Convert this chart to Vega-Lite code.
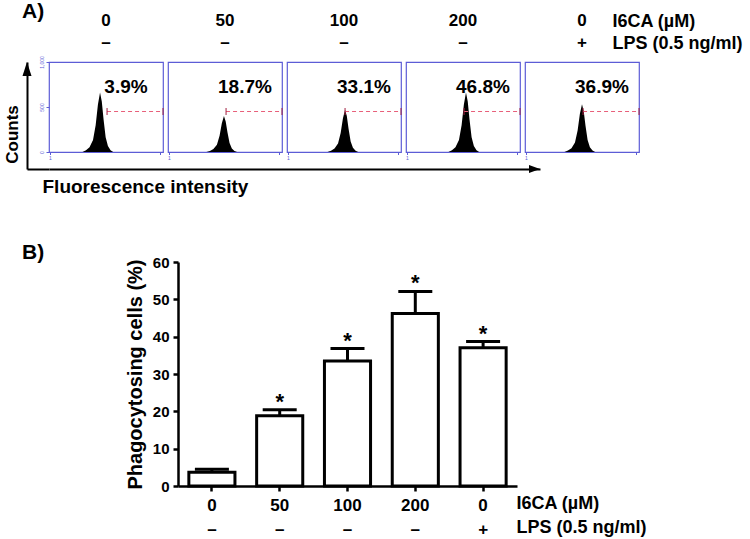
{
  "$schema": "https://vega.github.io/schema/vega-lite/v6.json",
  "background": "white",
  "padding": {"left": 3, "top": 1, "right": 5, "bottom": 5},
  "config": {
    "font": "Liberation Sans",
    "view": {"stroke": null},
    "axis": {"labelColor": "#000", "titleColor": "#000", "domainColor": "#000", "tickColor": "#000", "grid": false, "labelFont": "Liberation Sans", "titleFont": "Liberation Sans"},
    "title": {"font": "Liberation Sans", "color": "#000", "fontWeight": "bold"}
  },
  "columns": 2,
  "spacing": {"row": 0, "column": 0},
  "align": "each",
  "bounds": "flush",
  "concat": [
    {
      "width": 22, "height": 41,
      "title": {"text": "A)", "anchor": "start", "frame": "group", "orient": "top", "offset": 2, "dy": 20, "baseline": "alphabetic", "dx": -5, "fontSize": 21, "fontWeight": "bold"},
      "data": {"values": []},
      "mark": "point"
    },
    {
      "width": 590, "height": 41,
      "data": {"values": [
        {"cond": "0/–", "factor": "I6CA (µM)", "level": "0"},
        {"cond": "0/–", "factor": "LPS (0.5 ng/ml)", "level": "–"},
        {"cond": "50/–", "factor": "I6CA (µM)", "level": "50"},
        {"cond": "50/–", "factor": "LPS (0.5 ng/ml)", "level": "–"},
        {"cond": "100/–", "factor": "I6CA (µM)", "level": "100"},
        {"cond": "100/–", "factor": "LPS (0.5 ng/ml)", "level": "–"},
        {"cond": "200/–", "factor": "I6CA (µM)", "level": "200"},
        {"cond": "200/–", "factor": "LPS (0.5 ng/ml)", "level": "–"},
        {"cond": "0/+", "factor": "I6CA (µM)", "level": "0"},
        {"cond": "0/+", "factor": "LPS (0.5 ng/ml)", "level": "+"}
      ]},
      "mark": {"type": "text", "fontSize": 17, "fontWeight": "bold", "baseline": "middle", "color": "#000"},
      "encoding": {
        "x": {"field": "cond", "type": "nominal", "sort": ["0/–", "50/–", "100/–", "200/–", "0/+"], "scale": {"type": "band", "paddingInner": 0.042, "paddingOuter": 0}, "axis": null},
        "y": {"field": "factor", "type": "nominal", "sort": ["I6CA (µM)", "LPS (0.5 ng/ml)"], "scale": {"type": "point", "padding": 0.432, "align": 0.026},
              "axis": {"orient": "right", "offset": -27, "domain": false, "ticks": false, "labelPadding": 0, "labelAlign": "left", "labelFontSize": 18, "labelFontWeight": "bold", "title": null}},
        "text": {"field": "level"}
      }
    },
    {
      "width": 22, "height": 107,
      "data": {"values": [{"arrow": "Counts"}]},
      "mark": {"type": "point", "shape": "M0,0L0.45,1.4L-0.45,1.4Z", "size": 400, "filled": true, "color": "#000", "opacity": 1, "strokeWidth": 0},
      "encoding": {
        "x": {"datum": 0, "type": "quantitative", "scale": {"domain": [0, 1]},
              "axis": {"domainWidth": 2, "ticks": false, "labels": false, "grid": false, "title": null}},
        "y": {"datum": 1, "type": "quantitative", "scale": {"domain": [0, 1]},
              "axis": {"domainWidth": 2, "ticks": false, "labels": false, "grid": false, "title": "Counts", "titleFontSize": 17, "titleFontWeight": "bold", "titleX": -10, "titleY": 72, "titleAngle": -90, "titleBaseline": "alphabetic", "titleAlign": "center"}}
      }
    },
    {
      "data": {"values": [
        {"cond": "0/–", "kind": "hist", "fl": 2.86, "count": 0},
        {"cond": "0/–", "kind": "hist", "fl": 3.06, "count": 20},
        {"cond": "0/–", "kind": "hist", "fl": 3.26, "count": 53},
        {"cond": "0/–", "kind": "hist", "fl": 3.46, "count": 132},
        {"cond": "0/–", "kind": "hist", "fl": 3.61, "count": 297},
        {"cond": "0/–", "kind": "hist", "fl": 3.74, "count": 528},
        {"cond": "0/–", "kind": "hist", "fl": 3.86, "count": 660},
        {"cond": "0/–", "kind": "hist", "fl": 3.96, "count": 561},
        {"cond": "0/–", "kind": "hist", "fl": 4.06, "count": 363},
        {"cond": "0/–", "kind": "hist", "fl": 4.18, "count": 165},
        {"cond": "0/–", "kind": "hist", "fl": 4.31, "count": 66},
        {"cond": "0/–", "kind": "hist", "fl": 4.46, "count": 20},
        {"cond": "0/–", "kind": "hist", "fl": 4.61, "count": 0},
        {"cond": "50/–", "kind": "hist", "fl": 3.14, "count": 0},
        {"cond": "50/–", "kind": "hist", "fl": 3.34, "count": 12},
        {"cond": "50/–", "kind": "hist", "fl": 3.54, "count": 32},
        {"cond": "50/–", "kind": "hist", "fl": 3.74, "count": 80},
        {"cond": "50/–", "kind": "hist", "fl": 3.89, "count": 180},
        {"cond": "50/–", "kind": "hist", "fl": 4.02, "count": 320},
        {"cond": "50/–", "kind": "hist", "fl": 4.14, "count": 400},
        {"cond": "50/–", "kind": "hist", "fl": 4.24, "count": 340},
        {"cond": "50/–", "kind": "hist", "fl": 4.34, "count": 220},
        {"cond": "50/–", "kind": "hist", "fl": 4.46, "count": 100},
        {"cond": "50/–", "kind": "hist", "fl": 4.59, "count": 40},
        {"cond": "50/–", "kind": "hist", "fl": 4.74, "count": 12},
        {"cond": "50/–", "kind": "hist", "fl": 4.89, "count": 0},
        {"cond": "100/–", "kind": "hist", "fl": 3.26, "count": 0},
        {"cond": "100/–", "kind": "hist", "fl": 3.46, "count": 14},
        {"cond": "100/–", "kind": "hist", "fl": 3.66, "count": 38},
        {"cond": "100/–", "kind": "hist", "fl": 3.86, "count": 94},
        {"cond": "100/–", "kind": "hist", "fl": 4.01, "count": 212},
        {"cond": "100/–", "kind": "hist", "fl": 4.14, "count": 376},
        {"cond": "100/–", "kind": "hist", "fl": 4.26, "count": 470},
        {"cond": "100/–", "kind": "hist", "fl": 4.36, "count": 400},
        {"cond": "100/–", "kind": "hist", "fl": 4.46, "count": 259},
        {"cond": "100/–", "kind": "hist", "fl": 4.58, "count": 118},
        {"cond": "100/–", "kind": "hist", "fl": 4.71, "count": 47},
        {"cond": "100/–", "kind": "hist", "fl": 4.86, "count": 14},
        {"cond": "100/–", "kind": "hist", "fl": 5.01, "count": 0},
        {"cond": "200/–", "kind": "hist", "fl": 3.37, "count": 0},
        {"cond": "200/–", "kind": "hist", "fl": 3.57, "count": 20},
        {"cond": "200/–", "kind": "hist", "fl": 3.77, "count": 53},
        {"cond": "200/–", "kind": "hist", "fl": 3.97, "count": 132},
        {"cond": "200/–", "kind": "hist", "fl": 4.12, "count": 297},
        {"cond": "200/–", "kind": "hist", "fl": 4.25, "count": 528},
        {"cond": "200/–", "kind": "hist", "fl": 4.37, "count": 660},
        {"cond": "200/–", "kind": "hist", "fl": 4.47, "count": 561},
        {"cond": "200/–", "kind": "hist", "fl": 4.57, "count": 363},
        {"cond": "200/–", "kind": "hist", "fl": 4.69, "count": 165},
        {"cond": "200/–", "kind": "hist", "fl": 4.82, "count": 66},
        {"cond": "200/–", "kind": "hist", "fl": 4.97, "count": 20},
        {"cond": "200/–", "kind": "hist", "fl": 5.12, "count": 0},
        {"cond": "0/+", "kind": "hist", "fl": 3.2, "count": 0},
        {"cond": "0/+", "kind": "hist", "fl": 3.4, "count": 16},
        {"cond": "0/+", "kind": "hist", "fl": 3.6, "count": 42},
        {"cond": "0/+", "kind": "hist", "fl": 3.8, "count": 106},
        {"cond": "0/+", "kind": "hist", "fl": 3.95, "count": 239},
        {"cond": "0/+", "kind": "hist", "fl": 4.08, "count": 424},
        {"cond": "0/+", "kind": "hist", "fl": 4.2, "count": 530},
        {"cond": "0/+", "kind": "hist", "fl": 4.3, "count": 451},
        {"cond": "0/+", "kind": "hist", "fl": 4.4, "count": 292},
        {"cond": "0/+", "kind": "hist", "fl": 4.52, "count": 133},
        {"cond": "0/+", "kind": "hist", "fl": 4.65, "count": 53},
        {"cond": "0/+", "kind": "hist", "fl": 4.8, "count": 16},
        {"cond": "0/+", "kind": "hist", "fl": 4.95, "count": 0},
        {"cond": "0/–", "kind": "gate", "lo": 4.26, "hi": 7.45},
        {"cond": "50/–", "kind": "gate", "lo": 4.26, "hi": 7.45},
        {"cond": "100/–", "kind": "gate", "lo": 4.26, "hi": 7.45},
        {"cond": "200/–", "kind": "gate", "lo": 4.26, "hi": 7.45},
        {"cond": "0/+", "kind": "gate", "lo": 4.26, "hi": 7.45},
        {"cond": "0/–", "kind": "pct", "pct": "3.9%"},
        {"cond": "50/–", "kind": "pct", "pct": "18.7%"},
        {"cond": "100/–", "kind": "pct", "pct": "33.1%"},
        {"cond": "200/–", "kind": "pct", "pct": "46.8%"},
        {"cond": "0/+", "kind": "pct", "pct": "36.9%"}
      ]},
      "facet": {"column": {"field": "cond", "type": "nominal", "sort": ["0/–", "50/–", "100/–", "200/–", "0/+"], "header": null}},
      "spacing": {"column": 5},
      "bounds": "flush",
      "spec": {
        "width": 114, "height": 90,
        "view": {"stroke": "#5c5cd6", "strokeWidth": 1.2},
        "layer": [
          {
            "transform": [{"filter": "datum.kind === 'hist'"}],
            "mark": {"type": "area", "color": "#000", "interpolate": "linear"},
            "encoding": {
              "x": {"field": "fl", "type": "quantitative", "scale": {"domain": [0.95, 7.45], "nice": false, "zero": false},
                    "axis": {"values": [1, 1.301, 1.477, 1.602, 1.699, 1.778, 1.845, 1.903, 1.954, 2, 2.301, 2.477, 2.602, 2.699, 2.778, 2.845, 2.903, 2.954, 3, 3.301, 3.477, 3.602, 3.699, 3.778, 3.845, 3.903, 3.954, 4, 4.301, 4.477, 4.602, 4.699, 4.778, 4.845, 4.903, 4.954, 5, 5.301, 5.477, 5.602, 5.699, 5.778, 5.845, 5.903, 5.954, 6, 6.301, 6.477, 6.602, 6.699, 6.778, 6.845, 6.903, 6.954, 7, 7.301],
                             "labelExpr": "datum.value % 1 === 0 ? format(datum.value, 'd') : ''", "labelFontSize": 5, "labelColor": "#5c5cd6", "tickColor": "#5c5cd6", "tickSize": 2.5, "tickWidth": 1, "domain": false, "labelPadding": 1, "labelOverlap": false, "labelFlush": false, "title": null, "grid": false}},
              "y": {"field": "count", "type": "quantitative", "scale": {"domain": [0, 1000], "nice": false},
                    "axis": {"values": [0, 500, 1000], "labelAngle": -90, "labelAlign": "center", "labelBaseline": "bottom", "labelFontSize": 5, "labelColor": "#5c5cd6", "tickColor": "#5c5cd6", "tickSize": 3, "tickWidth": 1, "domain": false, "labelPadding": 2, "title": null, "grid": false}}
            }
          },
          {
            "transform": [{"filter": "datum.kind === 'gate'"}],
            "mark": {"type": "rule", "color": "#e8607a", "strokeDash": [4, 3], "strokeWidth": 1.2},
            "encoding": {
              "x": {"field": "lo", "type": "quantitative", "title": null},
              "x2": {"field": "hi"},
              "y": {"datum": 450, "type": "quantitative"}
            }
          },
          {
            "transform": [{"filter": "datum.kind === 'gate'"}],
            "mark": {"type": "tick", "orient": "vertical", "size": 7, "thickness": 1, "color": "#a02040", "opacity": 1},
            "encoding": {
              "x": {"field": "lo", "type": "quantitative", "title": null},
              "y": {"datum": 450, "type": "quantitative"}
            }
          },
          {
            "transform": [{"filter": "datum.kind === 'gate'"}],
            "mark": {"type": "tick", "orient": "vertical", "size": 7, "thickness": 1, "color": "#a02040", "opacity": 1},
            "encoding": {
              "x": {"field": "hi", "type": "quantitative", "title": null},
              "y": {"datum": 450, "type": "quantitative"}
            }
          },
          {
            "transform": [{"filter": "datum.kind === 'pct'"}],
            "mark": {"type": "text", "fontSize": 19, "fontWeight": "bold", "color": "#000", "baseline": "middle", "align": "center"},
            "encoding": {
              "x": {"datum": 5.34, "type": "quantitative"},
              "y": {"datum": 722, "type": "quantitative"},
              "text": {"field": "pct"}
            }
          }
        ]
      }
    },
    {
      "width": 22, "height": 93,
      "data": {"values": []},
      "mark": "point"
    },
    {
      "width": 491, "height": 93,
      "data": {"values": [{"arrow": "Fluorescence intensity"}]},
      "mark": {"type": "point", "shape": "M0,0L-1.1,-0.4L-1.1,0.4Z", "size": 400, "filled": true, "color": "#000", "opacity": 1, "strokeWidth": 0},
      "encoding": {
        "x": {"datum": 1, "type": "quantitative", "scale": {"domain": [0, 1]},
              "axis": {"orient": "top", "domainWidth": 2, "ticks": false, "labels": false, "grid": false, "title": "Fluorescence intensity", "titleFontSize": 19, "titleFontWeight": "bold", "titleX": -7, "titleY": 23, "titleAlign": "left", "titleBaseline": "alphabetic", "titleAnchor": "start"}},
        "y": {"datum": 1, "type": "quantitative", "scale": {"domain": [0, 1]}, "axis": null}
      }
    },
    {
      "width": 22, "height": 224,
      "title": {"text": "B)", "anchor": "start", "frame": "group", "orient": "top", "offset": 4, "dy": 22, "baseline": "alphabetic", "dx": -5, "fontSize": 21, "fontWeight": "bold"},
      "data": {"values": []},
      "mark": "point"
    },
    {
      "spacing": 5,
      "bounds": "flush",
      "hconcat": [
        {
          "width": 124, "height": 224,
          "data": {"values": []},
          "mark": "point"
        },
        {
          "width": 339, "height": 224,
          "data": {"values": [
            {"group": "0/–", "mean": 3.7, "upper": 4.5, "sig": ""},
            {"group": "50/–", "mean": 18.8, "upper": 20.4, "sig": "*"},
            {"group": "100/–", "mean": 33.5, "upper": 36.8, "sig": "*"},
            {"group": "200/–", "mean": 46.2, "upper": 52.1, "sig": "*"},
            {"group": "0/+", "mean": 37.0, "upper": 38.7, "sig": "*"}
          ]},
          "encoding": {
            "x": {"field": "group", "type": "nominal", "sort": ["0/–", "50/–", "100/–", "200/–", "0/+"], "scale": {"type": "band", "paddingInner": 0.32, "paddingOuter": 0.16},
                  "axis": {"labelExpr": "split(datum.label, '/')", "labelAngle": 0, "labelFontSize": 17, "labelFontWeight": "bold", "labelLineHeight": 24, "labelPadding": 6, "tickSize": 5, "tickWidth": 2.5, "domainWidth": 2.5,
                           "title": ["I6CA (µM)", "LPS (0.5 ng/ml)"], "titleFontSize": 18, "titleFontWeight": "bold", "titleX": 338, "titleY": 22, "titleAlign": "left", "titleBaseline": "alphabetic", "titleLineHeight": 24, "titleAngle": 0}}
          },
          "layer": [
            {
              "mark": {"type": "bar", "fill": "#fff", "stroke": "#000", "strokeWidth": 3},
              "encoding": {
                "y": {"field": "mean", "type": "quantitative", "scale": {"domain": [0, 60], "nice": false},
                      "axis": {"values": [0, 10, 20, 30, 40, 50, 60], "tickCount": 7, "labelOverlap": false, "labelFontSize": 15, "labelFontWeight": "bold", "tickSize": 5, "tickWidth": 2.5, "domainWidth": 2.5, "labelPadding": 4,
                               "title": "Phagocytosing cells (%)", "titleFontSize": 20, "titleFontWeight": "bold", "titleX": -37, "titleBaseline": "alphabetic", "titleAngle": -90}}
              }
            },
            {
              "mark": {"type": "rule", "strokeWidth": 3, "color": "#000"},
              "encoding": {
                "y": {"field": "mean", "type": "quantitative",
                      "axis": {"values": [0, 10, 20, 30, 40, 50, 60], "tickCount": 7, "labelOverlap": false, "labelFontSize": 15, "labelFontWeight": "bold", "tickSize": 5, "tickWidth": 2.5, "domainWidth": 2.5, "labelPadding": 4,
                               "title": "Phagocytosing cells (%)", "titleFontSize": 20, "titleFontWeight": "bold", "titleX": -37, "titleBaseline": "alphabetic", "titleAngle": -90}},
                "y2": {"field": "upper"}
              }
            },
            {
              "mark": {"type": "tick", "orient": "horizontal", "size": 34, "thickness": 3, "color": "#000", "opacity": 1},
              "encoding": {"y": {"field": "upper", "type": "quantitative",
                      "axis": {"values": [0, 10, 20, 30, 40, 50, 60], "tickCount": 7, "labelOverlap": false, "labelFontSize": 15, "labelFontWeight": "bold", "tickSize": 5, "tickWidth": 2.5, "domainWidth": 2.5, "labelPadding": 4,
                               "title": "Phagocytosing cells (%)", "titleFontSize": 20, "titleFontWeight": "bold", "titleX": -37, "titleBaseline": "alphabetic", "titleAngle": -90}}}
            },
            {
              "mark": {"type": "text", "fontSize": 22, "fontWeight": "bold", "baseline": "alphabetic", "dy": -1, "color": "#000"},
              "encoding": {"y": {"field": "upper", "type": "quantitative",
                      "axis": {"values": [0, 10, 20, 30, 40, 50, 60], "tickCount": 7, "labelOverlap": false, "labelFontSize": 15, "labelFontWeight": "bold", "tickSize": 5, "tickWidth": 2.5, "domainWidth": 2.5, "labelPadding": 4,
                               "title": "Phagocytosing cells (%)", "titleFontSize": 20, "titleFontWeight": "bold", "titleX": -37, "titleBaseline": "alphabetic", "titleAngle": -90}}, "text": {"field": "sig"}}
            }
          ]
        }
      ]
    }
  ]
}
